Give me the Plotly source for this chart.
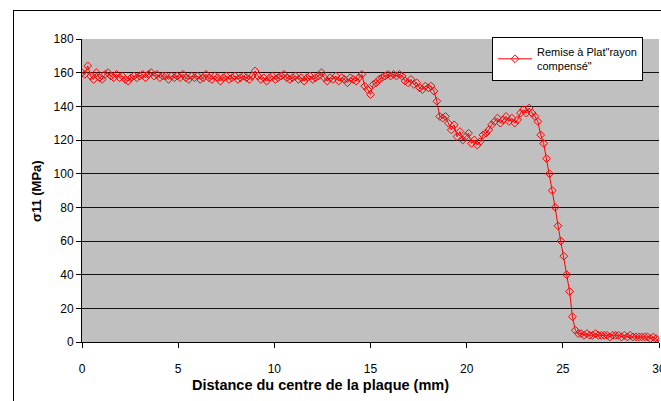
import plotly.graph_objects as go

step_mm = 0.15
n_points = 201
distance_mm = [round(i * step_mm, 2) for i in range(n_points)]

sigma11_mpa = [
    160, 159, 164, 158, 156, 160, 157, 156, 159, 160,
    158, 157, 159, 157, 158, 156, 155, 157, 158, 157,
    158, 159, 157, 159, 160, 158, 159, 157, 158, 158,
    156, 158, 157, 158, 157, 159, 157, 156, 158, 157,
    158, 156, 157, 159, 157, 156, 158, 157, 155, 157,
    158, 156, 157, 158, 156, 157, 158, 157, 156, 158,
    161, 158, 156, 157, 155, 157, 158, 156, 157, 158,
    159, 157, 156, 157, 158, 156, 157, 155, 157, 158,
    156, 157, 158, 160, 157, 155, 157, 156, 158, 155,
    157, 156, 154, 157, 156, 155, 157, 159, 152, 150,
    147, 153, 154, 156, 157, 158, 159, 158, 159, 158,
    159, 158, 155, 154, 156, 153, 154, 151, 150, 152,
    151, 152, 149, 143, 134, 133, 134, 130, 126, 129,
    122, 125, 120, 122, 124, 118, 120, 117, 119, 123,
    124, 126, 129, 131, 133, 130, 132, 134, 131, 133,
    130, 132, 136, 138, 136, 139, 136, 134, 131, 123,
    118, 109, 100, 90, 80, 69, 60, 51, 40, 30,
    15, 7, 5, 5, 4, 5, 4, 4, 5, 4,
    4, 4, 4, 3, 4, 4, 4, 3, 4, 3,
    4, 3, 3, 3, 3, 3, 3, 2, 3, 2,
    0,
]

series_name = 'Remise à Plat"rayon<br>compensé"'
x_title = "Distance du centre de la plaque (mm)"
y_title = "σ11 (MPa)"
x_ticks = [0, 5, 10, 15, 20, 25, 30]
y_ticks = [0, 20, 40, 60, 80, 100, 120, 140, 160, 180]

W, H = 661, 401
L, R, T, B = 82, 659, 39, 342

fig = go.Figure()
fig.add_trace(go.Scatter(
    x=distance_mm, y=sigma11_mpa, mode="lines+markers", name=series_name,
    line=dict(color="#FF0000", width=1),
    marker=dict(symbol="diamond-open", color="#FF0000", size=6, line=dict(width=1)),
))

font_family = "Liberation Sans, Arial, sans-serif"

def px_to_paper_x(p):
    return (p - L) / (R - L)

def px_to_paper_y(p):
    return (B - p) / (B - T)

fig.update_layout(
    width=W, height=H,
    margin=dict(l=L, r=W - R, t=T, b=H - B, pad=0, autoexpand=False),
    paper_bgcolor="white",
    plot_bgcolor="#C0C0C0",
    font=dict(family=font_family, size=12, color="black"),
    showlegend=True,
    legend=dict(
        x=px_to_paper_x(492), y=px_to_paper_y(37), xanchor="left", yanchor="top",
        bgcolor="white", bordercolor="black", borderwidth=1,
        font=dict(size=11, family=font_family),
        itemwidth=34, tracegroupgap=0, entrywidth=130, entrywidthmode="pixels",
    ),
    xaxis=dict(
        range=[0, 30], tickvals=x_ticks, ticks="outside", ticklen=5,
        tickcolor="black", showline=True, linecolor="black", linewidth=1,
        showgrid=False, zeroline=False, tickfont=dict(size=12),
        ticklabelstandoff=11, ticklabeloverflow="allow",
    ),
    yaxis=dict(
        range=[0, 180], tickvals=y_ticks, ticks="outside", ticklen=5,
        tickcolor="black", showline=True, linecolor="black", linewidth=1,
        showgrid=True, gridcolor="#111111", gridwidth=1, zeroline=False,
        tickfont=dict(size=12),
    ),
    annotations=[
        dict(text="<b>" + x_title + "</b>", xref="paper", yref="paper",
             x=px_to_paper_x(320), y=px_to_paper_y(385), showarrow=False,
             xanchor="center", yanchor="middle", font=dict(size=14.5)),
        dict(text="<b>" + y_title + "</b>", xref="paper", yref="paper",
             x=px_to_paper_x(36), y=px_to_paper_y(191), showarrow=False,
             textangle=-90, xanchor="center", yanchor="middle", font=dict(size=13)),
    ],
    shapes=[
        dict(type="line", xref="paper", yref="paper",
             x0=px_to_paper_x(13.5), x1=px_to_paper_x(13.5),
             y0=px_to_paper_y(10), y1=px_to_paper_y(405),
             line=dict(color="black", width=1)),
        dict(type="line", xref="paper", yref="paper",
             x0=px_to_paper_x(13.5), x1=px_to_paper_x(665),
             y0=px_to_paper_y(10.5), y1=px_to_paper_y(10.5),
             line=dict(color="black", width=1)),
    ],
)

fig.write_html(
    "out.html",
    config={"displayModeBar": False},
    post_script="document.body.style.margin='0';document.body.style.overflow='hidden';",
)
